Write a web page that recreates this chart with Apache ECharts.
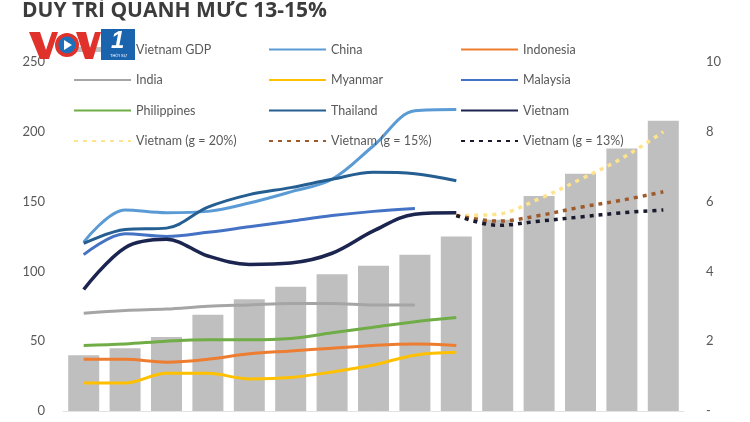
<!DOCTYPE html>
<html><head><meta charset="utf-8">
<script src="https://cdn.jsdelivr.net/npm/echarts@6/dist/echarts.min.js"></script>
<style>html,body{margin:0;padding:0;background:#fff}#c{width:750px;height:422px}</style>
</head><body><div id="c"></div>
<script>
const years = ['2010','2011','2012','2013','2014','2015','2016','2017','2018','2019','2020','2021','2022','2023','2024'];
const leftTicks = [0, 50, 100, 150, 200, 250];
const rightTicks = [0, 2, 4, 6, 8, 10];
const vietnamGDP = [40,45,53,69,80,89,98,104,112,125,137,154,170,188,208];
const china =       [121,144,142,143,149,157,166,190,215,216,null,null,null,null,null];
const indonesia =   [37,37,35,37,41,43,45,47,48,47,null,null,null,null,null];
const india =       [70,72,73,75,76,77,77,76,76,null,null,null,null,null,null];
const myanmar =     [20,20,27,27,23,24,28,33,40,42,null,null,null,null,null];
const malaysia =    [112,127,125,128,132,136,140,143,145,null,null,null,null,null,null];
const philippines = [47,48,50,51,51,52,56,60,64,67,null,null,null,null,null];
const thailand =    [120,130,131,146,155,160,166,171,170,165,null,null,null,null,null];
const vietnam =     [87,117,123,111,105,106,113,129,141,142,null,null,null,null,null];
const vn20 = [null,null,null,null,null,null,null,null,null,140,141,152,166,181,200];
const vn15 = [null,null,null,null,null,null,null,null,null,140,136,140,146,151,157];
const vn13 = [null,null,null,null,null,null,null,null,null,140,133,136,139,142,144];

const txt = '#595959';
function line(name, data, color, w, dash) {
  return {
    name, type: 'line', data, smooth: 0.35, symbol: 'none', showSymbol: false, connectNulls: false,
    yAxisIndex: 0, z: 3,
    lineStyle: { color, width: w, type: dash || 'solid', cap: 'butt' },
    itemStyle: { color }
  };
}
const legendBase = {
  orient: 'vertical', itemWidth: 57, itemHeight: 12, itemGap: 17.5,
  itemStyle: { opacity: 0 },
  textStyle: { color: txt, fontSize: 12.5, fontFamily: 'Lato' }, top: 43, padding: 0
};
const chart = echarts.init(document.getElementById('c'), null, { renderer: 'canvas' });
chart.setOption({
  animation: false,
  backgroundColor: '#fff',
  grid: { left: 63, right: 66, top: 62, bottom: 11 },
  legend: [
    Object.assign({}, legendBase, { left: 73, data: [
      { name: 'Vietnam GDP', icon: 'path://M0,0L57,0L57,5L0,5Z', itemStyle: { opacity: 1, color: '#bfbfbf' } },
      'India', 'Philippines', 'Vietnam (g = 20%)'] }),
    Object.assign({}, legendBase, { left: 268, data: ['China', 'Myanmar', 'Thailand', 'Vietnam (g = 15%)'] }),
    Object.assign({}, legendBase, { left: 460, data: ['Indonesia', 'Malaysia', 'Vietnam', 'Vietnam (g = 13%)'] })
  ],
  xAxis: {
    type: 'category', data: years, boundaryGap: true,
    axisLine: { show: true, lineStyle: { color: '#e3e3e3' } },
    axisTick: { show: false }, axisLabel: { show: false }
  },
  yAxis: [
    { type: 'value', min: 0, max: 250, interval: 50, splitLine: { show: false },
      axisLine: { show: false }, axisTick: { show: false },
      axisLabel: { color: txt, fontSize: 13, fontFamily: 'Lato', margin: 18,
        formatter: v => leftTicks.includes(v) ? String(v) : '' } },
    { type: 'value', min: 0, max: 10, interval: 2, splitLine: { show: false },
      axisLine: { show: false }, axisTick: { show: false }, position: 'right',
      axisLabel: { color: txt, fontSize: 13, fontFamily: 'Lato', margin: 22,
        formatter: v => rightTicks.includes(v) ? (v === 0 ? '-' : String(v)) : '' } }
  ],
  series: [
    { name: 'Vietnam GDP', type: 'bar', data: vietnamGDP, barWidth: 31, yAxisIndex: 0, z: 1,
      itemStyle: { color: '#bfbfbf' } },
    line('China', china, '#5b9bd5', 3),
    line('Indonesia', indonesia, '#ed7d31', 3),
    line('India', india, '#a5a5a5', 3),
    line('Myanmar', myanmar, '#ffc000', 3),
    line('Malaysia', malaysia, '#4472c4', 3),
    line('Philippines', philippines, '#70ad47', 3),
    line('Thailand', thailand, '#255e91', 3),
    line('Vietnam', vietnam, '#1c2550', 3.5),
    line('Vietnam (g = 20%)', vn20, '#ffe38a', 3.5, [4, 5]),
    line('Vietnam (g = 15%)', vn15, '#9e5a2a', 3.5, [4, 5]),
    line('Vietnam (g = 13%)', vn13, '#1a1a2e', 3.5, [4, 5])
  ],
  graphic: [
    { type: 'text', left: 22, top: 1, z: 10,
      style: { text: 'DUY TRÌ QUANH MỨC 13-15%', font: 'bold 21px "Open Sans"', fill: '#3c3c3c' } },
    { type: 'polygon', z: 20, shape: { points: [[29, 32], [40, 32], [46, 50], [52, 32], [58, 32], [49, 59], [40, 59]] },
      style: { fill: '#e0322b' } },
    { type: 'circle', shape: { cx: 67, cy: 45, r: 12 }, z: 20, style: { fill: '#e0322b' } },
    { type: 'circle', shape: { cx: 67, cy: 45, r: 8.5 }, z: 21, style: { fill: '#1c6fb8' } },
    { type: 'polygon', shape: { points: [[64, 40], [64, 50], [72, 45]] }, z: 22, style: { fill: '#fff' } },
    { type: 'polygon', z: 20, shape: { points: [[76, 32], [86, 32], [90, 48], [95, 32], [101, 32], [93, 59], [85, 59]] },
      style: { fill: '#e0322b' } },
    { type: 'rect', shape: { x: 101, y: 29, width: 34, height: 31 }, z: 21, style: { fill: '#1a63ad' } },
    { type: 'text', left: 111, top: 29, z: 22,
      style: { text: '1', font: 'italic bold 24px "Liberation Sans"', fill: '#fff' } },
    { type: 'text', left: 110, top: 54, z: 22,
      style: { text: 'THỜI SỰ', font: '4px "Liberation Sans"', fill: '#fff' } }
  ]
});
</script></body></html>
